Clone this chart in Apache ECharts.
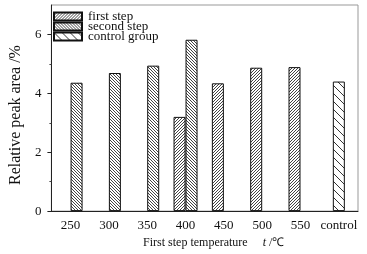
<!DOCTYPE html>
<html>
<head>
<meta charset="utf-8">
<script src="https://cdn.jsdelivr.net/npm/echarts@6/dist/echarts.min.js"></script>
<style>html,body{margin:0;padding:0;background:#fff}#c{width:367px;height:254px}</style>
</head>
<body>
<div id="c"></div>
<script>
var categories = ['250', '300', '350', '400', '450', '500', '550', 'control'];
var firstStep = [null, null, null, 3.2, 4.34, 4.87, 4.89, null];
var secondStep = [4.36, 4.69, 4.94, 5.82, null, null, null, null];
var controlGroup = [null, null, null, null, null, null, null, 4.40];
var yTicks = [0, 2, 4, 6];

function hatch(period, dir, color) {
  var c = document.createElement('canvas');
  c.width = period; c.height = period;
  var ctx = c.getContext('2d');
  ctx.fillStyle = '#fff';
  ctx.fillRect(0, 0, period, period);
  ctx.fillStyle = color;
  for (var i = 0; i < period; i++) {
    var x = dir > 0 ? period - 1 - i : i;
    ctx.fillRect(x, i, 1, 1);
  }
  return c;
}

var font = 'Liberation Serif';
var chart = echarts.init(document.getElementById('c'), null, {renderer: 'canvas'});
chart.setOption({
  animation: false,
  textStyle: {fontFamily: font},
  grid: {left: 43, right: 9, top: 5, bottom: 41, show: true, borderColor: '#999', borderWidth: 1},
  legend: {
    orient: 'vertical', left: 53, top: 10, padding: 0, itemWidth: 28, itemHeight: 8, itemGap: -3,
    icon: 'rect',
    textStyle: {fontFamily: font, fontSize: 13, lineHeight: 11, color: '#111', padding: [0, 0, 0, 1]},
    data: ['first step', 'second step', 'control group']
  },
  xAxis: [{
    type: 'category', data: categories,
    axisLine: {lineStyle: {color: '#222'}},
    axisTick: {show: false},
    axisLabel: {interval: 0, fontFamily: font, fontSize: 13, color: '#111', margin: 8},
    name: 'First step temperature     {i|t} /℃',
    nameLocation: 'middle', nameGap: 22,
    nameTextStyle: {fontFamily: font, fontSize: 12, color: '#111', padding: [0, 0, 0, 18],
      rich: {i: {fontStyle: 'italic', fontFamily: font, fontSize: 12, color: '#111'}}}
  }, {
    type: 'category', data: categories, show: false
  }],
  yAxis: {
    type: 'value', min: 0, max: 7, interval: 2,
    splitLine: {show: false},
    axisLine: {show: true, lineStyle: {color: '#222'}},
    axisTick: {show: true, length: 4, customValues: yTicks, lineStyle: {color: '#222'}},
    minorTick: {show: true, splitNumber: 2, length: 2, lineStyle: {color: '#444'}},
    axisLabel: {fontFamily: font, fontSize: 13, color: '#111', margin: 10, customValues: yTicks},
    name: 'Relative peak area /%', nameLocation: 'middle', nameGap: 26,
    nameTextStyle: {fontFamily: font, fontSize: 16, color: '#111', padding: [0, 14, 0, 0]}
  },
  series: [{
    name: 'first step', type: 'bar', xAxisIndex: 0, data: firstStep,
    barWidth: 12, barGap: '0%',
    itemStyle: {color: {image: hatch(3, 1, '#444'), repeat: 'repeat'}, borderColor: '#111', borderWidth: 1}
  }, {
    name: 'second step', type: 'bar', xAxisIndex: 0, data: secondStep,
    barWidth: 12, barGap: '0%',
    itemStyle: {color: {image: hatch(3, -1, '#444'), repeat: 'repeat'}, borderColor: '#111', borderWidth: 1}
  }, {
    name: 'control group', type: 'bar', xAxisIndex: 1, data: controlGroup,
    barWidth: 12,
    itemStyle: {color: {image: hatch(8, -1, '#333'), repeat: 'repeat'}, borderColor: '#111', borderWidth: 1}
  }]
});
</script>
</body>
</html>
